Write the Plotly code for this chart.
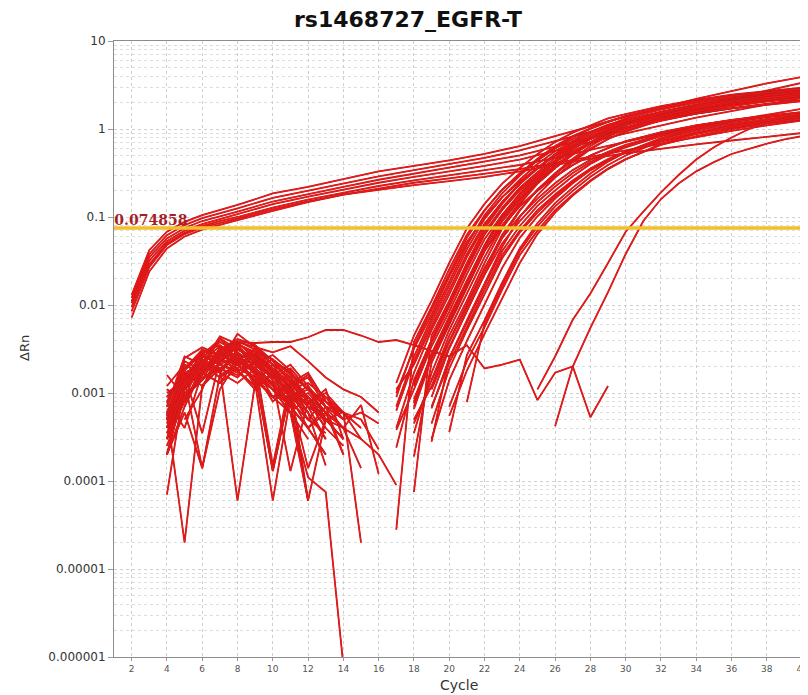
import plotly.graph_objects as go

TITLE = "rs1468727_EGFR-T"
THRESHOLD = 0.074858
THRESHOLD_LABEL = "0.074858"
X_RANGE = [1, 40.05]

# Early-rising curves (values read at these cycles)
EARLY_CYCLES = [2, 3, 4, 5, 6, 7, 8, 10, 12, 14, 16, 18, 20, 22, 24, 26, 28, 30, 32, 34, 36, 38, 40]
EARLY_1 = [0.013, 0.042, 0.068, 0.088, 0.105, 0.12, 0.137, 0.185, 0.22, 0.27, 0.33, 0.38, 0.44, 0.52, 0.64, 0.83, 1.08, 1.38, 1.75, 2.2, 2.7, 3.3, 3.9]
EARLY_2 = [0.012, 0.038, 0.062, 0.081, 0.097, 0.11, 0.125, 0.165, 0.2, 0.24, 0.29, 0.34, 0.4, 0.47, 0.57, 0.73, 0.93, 1.17, 1.47, 1.82, 2.22, 2.7, 3.35]
EARLY_3 = [0.011, 0.035, 0.057, 0.075, 0.09, 0.101, 0.115, 0.15, 0.183, 0.22, 0.265, 0.31, 0.36, 0.42, 0.5, 0.63, 0.8, 1.0, 1.25, 1.55, 1.85, 2.2, 2.6]
EARLY_4 = [0.0105, 0.032, 0.053, 0.07, 0.083, 0.095, 0.108, 0.14, 0.17, 0.205, 0.245, 0.285, 0.33, 0.38, 0.45, 0.56, 0.71, 0.89, 1.1, 1.35, 1.6, 1.9, 2.25]
EARLY_5 = [0.0095, 0.029, 0.05, 0.066, 0.079, 0.09, 0.1, 0.128, 0.158, 0.19, 0.225, 0.26, 0.3, 0.34, 0.39, 0.47, 0.58, 0.72, 0.88, 1.06, 1.25, 1.45, 1.7]
EARLY_6 = [0.0085, 0.027, 0.048, 0.064, 0.076, 0.086, 0.096, 0.122, 0.15, 0.18, 0.212, 0.245, 0.275, 0.31, 0.35, 0.41, 0.48, 0.57, 0.68, 0.81, 0.95, 1.1, 1.25]
EARLY_7 = [0.0072, 0.024, 0.044, 0.06, 0.072, 0.082, 0.092, 0.117, 0.148, 0.18, 0.205, 0.23, 0.255, 0.285, 0.33, 0.39, 0.46, 0.53, 0.6, 0.67, 0.74, 0.82, 0.9]
EARLY_CURVES = [EARLY_1, EARLY_2, EARLY_3, EARLY_4, EARLY_5, EARLY_6, EARLY_7]

# Main amplification cluster
MAIN_CYCLES = [17, 18, 19, 20, 21, 22, 23, 24, 25, 26, 27, 28, 29, 30, 32, 34, 36, 38, 40]
MAIN_CURVES = [
    [0.0013, 0.0045, 0.0112, 0.030, 0.074, 0.141, 0.24, 0.36, 0.52, 0.71, 0.91, 1.10, 1.32, 1.48, 1.82, 2.14, 2.45, 2.69, 2.95],
    [0.000028, 0.0038, 0.0095, 0.0255, 0.063, 0.12, 0.204, 0.306, 0.44, 0.60, 0.77, 0.935, 1.12, 1.26, 1.55, 1.82, 2.08, 2.29, 2.5],
    [0.0007, 0.0026, 0.0071, 0.0186, 0.048, 0.105, 0.186, 0.295, 0.44, 0.62, 0.81, 1.0, 1.2, 1.4, 1.74, 2.07, 2.37, 2.63, 2.88],
    [0.0011, 0.0021, 0.0057, 0.0149, 0.038, 0.084, 0.149, 0.236, 0.352, 0.50, 0.65, 0.80, 0.96, 1.12, 1.39, 1.66, 1.9, 2.1, 2.3],
    [None, 0.000075, 0.0045, 0.0112, 0.030, 0.074, 0.141, 0.24, 0.36, 0.52, 0.71, 0.91, 1.10, 1.32, 1.66, 2.0, 2.29, 2.57, 2.82],
    [None, 0.0013, 0.004, 0.0101, 0.027, 0.067, 0.127, 0.216, 0.324, 0.47, 0.64, 0.82, 0.99, 1.19, 1.49, 1.8, 2.06, 2.31, 2.54],
    [0.00038, 0.0011, 0.0034, 0.0084, 0.0225, 0.056, 0.106, 0.18, 0.27, 0.39, 0.53, 0.68, 0.83, 0.99, 1.25, 1.5, 1.72, 1.93, 2.12],
    [None, 0.0007, 0.0026, 0.0071, 0.0186, 0.048, 0.105, 0.186, 0.295, 0.44, 0.62, 0.81, 1.0, 1.2, 1.57, 1.91, 2.21, 2.51, 2.75],
    [None, 0.00019, 0.0022, 0.006, 0.0158, 0.041, 0.089, 0.158, 0.25, 0.374, 0.53, 0.69, 0.85, 1.02, 1.33, 1.62, 1.88, 2.13, 2.34],
    [None, 0.00045, 0.0014, 0.0039, 0.0102, 0.0264, 0.058, 0.102, 0.162, 0.242, 0.341, 0.446, 0.55, 0.66, 0.86, 1.05, 1.22, 1.38, 1.51],
    [None, None, 0.0014, 0.0045, 0.0112, 0.030, 0.074, 0.141, 0.24, 0.36, 0.52, 0.71, 0.91, 1.10, 1.48, 1.82, 2.14, 2.45, 2.69],
    [None, 0.0005, 0.0012, 0.0038, 0.0095, 0.0255, 0.063, 0.12, 0.204, 0.306, 0.44, 0.60, 0.77, 0.935, 1.26, 1.55, 1.82, 2.08, 2.29],
    [None, None, 0.00028, 0.0025, 0.0063, 0.0168, 0.041, 0.079, 0.134, 0.20, 0.29, 0.40, 0.51, 0.62, 0.83, 1.02, 1.2, 1.37, 1.5],
    [None, None, 0.00067, 0.0025, 0.0067, 0.0177, 0.0456, 0.10, 0.177, 0.28, 0.42, 0.59, 0.77, 0.95, 1.33, 1.65, 1.97, 2.25, 2.5],
    [None, None, 0.0003, 0.0014, 0.0039, 0.0102, 0.0264, 0.058, 0.102, 0.162, 0.242, 0.341, 0.446, 0.55, 0.77, 0.96, 1.14, 1.3, 1.45],
    [None, None, None, 0.00036, 0.0027, 0.0067, 0.018, 0.044, 0.085, 0.144, 0.216, 0.312, 0.426, 0.546, 0.79, 1.0, 1.2, 1.37, 1.54],
    [None, None, None, 0.0007, 0.0023, 0.0056, 0.015, 0.037, 0.07, 0.12, 0.18, 0.26, 0.355, 0.455, 0.66, 0.83, 1.0, 1.15, 1.29],
    [None, None, None, None, 0.00079, 0.0062, 0.0165, 0.041, 0.078, 0.132, 0.198, 0.286, 0.39, 0.5, 0.73, 0.91, 1.1, 1.26, 1.42],
    [0.001, 0.0032, 0.0078, 0.021, 0.052, 0.099, 0.168, 0.252, 0.364, 0.50, 0.64, 0.77, 0.92, 1.04, 1.27, 1.5, 1.72, 1.88, 2.07],
    [None, 0.00077, 0.0025, 0.0062, 0.0165, 0.041, 0.078, 0.132, 0.198, 0.286, 0.39, 0.5, 0.6, 0.73, 0.91, 1.1, 1.26, 1.41, 1.55],
    [None, 0.00066, 0.0025, 0.0067, 0.0177, 0.0456, 0.10, 0.177, 0.28, 0.42, 0.59, 0.77, 0.95, 1.14, 1.49, 1.81, 2.1, 2.38, 2.61],
    [0.00063, 0.0023, 0.0064, 0.0167, 0.043, 0.095, 0.167, 0.265, 0.40, 0.56, 0.73, 0.9, 1.08, 1.26, 1.57, 1.86, 2.13, 2.37, 2.59],
    [None, None, 0.0007, 0.0022, 0.0056, 0.015, 0.037, 0.07, 0.12, 0.18, 0.26, 0.355, 0.455, 0.55, 0.74, 0.91, 1.07, 1.22, 1.35],
    [None, 0.0012, 0.0038, 0.0095, 0.0255, 0.063, 0.12, 0.204, 0.306, 0.44, 0.60, 0.77, 0.935, 1.12, 1.41, 1.7, 1.95, 2.18, 2.4],
    [0.0009, 0.0034, 0.0088, 0.023, 0.058, 0.118, 0.205, 0.315, 0.46, 0.64, 0.83, 1.02, 1.22, 1.4, 1.74, 2.06, 2.36, 2.6, 2.85],
    [0.0004, 0.0017, 0.0052, 0.0132, 0.035, 0.08, 0.148, 0.24, 0.36, 0.51, 0.68, 0.86, 1.04, 1.22, 1.53, 1.84, 2.1, 2.36, 2.58],
    [None, 0.0008, 0.0028, 0.0074, 0.019, 0.046, 0.095, 0.165, 0.26, 0.38, 0.53, 0.69, 0.85, 1.01, 1.3, 1.58, 1.82, 2.05, 2.25],
    [None, 0.00035, 0.0017, 0.0052, 0.0132, 0.035, 0.08, 0.148, 0.24, 0.36, 0.51, 0.68, 0.86, 1.04, 1.4, 1.72, 2.0, 2.27, 2.5],
    [None, None, 0.0011, 0.0033, 0.0086, 0.022, 0.05, 0.09, 0.148, 0.222, 0.316, 0.42, 0.525, 0.63, 0.84, 1.03, 1.21, 1.37, 1.5],
    [None, None, 0.00045, 0.0019, 0.0052, 0.0135, 0.034, 0.067, 0.112, 0.172, 0.25, 0.34, 0.44, 0.54, 0.72, 0.88, 1.04, 1.18, 1.3],
    [None, None, 0.0009, 0.0032, 0.0085, 0.023, 0.058, 0.118, 0.205, 0.315, 0.46, 0.64, 0.83, 1.02, 1.4, 1.75, 2.08, 2.4, 2.65],
    [0.00024, 0.0014, 0.004, 0.0105, 0.028, 0.066, 0.122, 0.2, 0.3, 0.42, 0.56, 0.7, 0.85, 0.99, 1.24, 1.5, 1.72, 1.92, 2.1],
    [None, 0.00085, 0.0026, 0.0066, 0.017, 0.043, 0.08, 0.135, 0.2, 0.29, 0.39, 0.5, 0.61, 0.72, 0.92, 1.1, 1.27, 1.42, 1.55],
    [None, None, None, 0.00055, 0.0018, 0.0047, 0.012, 0.03, 0.064, 0.112, 0.175, 0.255, 0.35, 0.45, 0.68, 0.88, 1.07, 1.24, 1.4],
]

# Two late amplifiers
LATE_CYCLES_1 = [25, 26, 27, 28, 29, 30, 31, 32, 33, 34, 35, 36, 37, 38, 39, 40]
LATE_CURVE_1 = [0.0011, 0.0026, 0.0068, 0.0135, 0.03, 0.068, 0.115, 0.19, 0.3, 0.45, 0.62, 0.8, 1.0, 1.18, 1.3, 1.4]
LATE_CYCLES_2 = [26, 27, 28, 29, 30, 31, 32, 33, 34, 35, 36, 37, 38, 39, 40]
LATE_CURVE_2 = [0.00042, 0.002, 0.0055, 0.014, 0.038, 0.09, 0.16, 0.24, 0.33, 0.42, 0.52, 0.6, 0.68, 0.76, 0.83]

# Long flat noisy curve
FLAT_CYCLES = [7, 8, 9, 10, 11, 12, 13, 14, 15, 16, 17, 18, 19, 20, 21, 22, 23, 24, 25, 26, 27, 28, 29]
FLAT_CURVE = [0.003, 0.0038, 0.0037, 0.0038, 0.0038, 0.0043, 0.0052, 0.0052, 0.0045, 0.0038, 0.004, 0.0035, 0.003,
              0.0026, 0.0035, 0.0019, 0.0021, 0.0024, 0.00083, 0.0017, 0.002, 0.00053, 0.0012]

# Early-cycle noise (each list starts at cycle 4)
NOISE_START_CYCLE = 4
NOISE_CURVES = [
    [0.0005, 0.0011, 0.0018, 0.0024, 0.0021, 0.0015, 0.0009, 0.0006, 0.0003],
    [0.0003, 0.0009, 0.0016, 0.0028, 0.0032, 0.0022, 0.0012, 0.0007, 0.0004, 0.0002],
    [0.00007, 0.0013, 0.0021, 0.0019, 0.0026, 0.0017, 0.0008, 0.0011, 0.0005],
    [0.0016, 0.0009, 0.0014, 0.0031, 0.0041, 0.0035, 0.0023, 0.0013, 0.0008, 0.0004, 0.00025],
    [0.0006, 0.00002, 0.0012, 0.0019, 0.0015, 0.0024, 0.0018, 0.0009, 0.0006],
    [0.0004, 0.0014, 0.0025, 0.0038, 0.0029, 0.0016, 0.00013, 0.0011, 0.0007, 0.0003],
    [0.0009, 0.0017, 0.0012, 0.0022, 0.0047, 0.0033, 0.0021, 0.0015, 0.0009, 0.0005, 0.0003],
    [0.0002, 0.0006, 0.00014, 0.0016, 0.0021, 0.0028, 0.0017, 0.0012, 0.00006],
    [0.0005, 0.0019, 0.0027, 0.0021, 0.0018, 0.0012, 0.0016, 0.0007, 0.0004, 0.0006, 0.0002],
    [0.0003, 0.0011, 0.0023, 0.0034, 0.0026, 0.0013, 0.00006, 0.0009, 0.0012, 0.0005],
    [0.00045, 0.0015, 0.0019, 0.0026, 0.0038, 0.0024, 0.0014, 0.00013, 0.0008, 0.0004],
    [0.0008, 0.0004, 0.0017, 0.0024, 0.0019, 0.0032, 0.0021, 0.0011, 0.00075, 0.0011, 0.0003],
    [0.0002, 0.0012, 0.0031, 0.0027, 0.0022, 0.0019, 0.0013, 0.0008, 0.00006],
    [0.0006, 0.0021, 0.0017, 0.0013, 0.0025, 0.0018, 0.0011, 0.0006, 0.00011, 0.000075, 0.0000008],
    [None, 0.0007, 0.0018, 0.0029, 0.0036, 0.0027, 0.0019, 0.0013, 0.0017, 0.0008, 0.0005],
    [0.0004, 0.0013, 0.0024, 0.0017, 0.0028, 0.0023, 0.00015, 0.0014, 0.0009, 0.0006, 0.0004, 0.00014],
    [0.0011, 0.0008, 0.0019, 0.0042, 0.0031, 0.0026, 0.0018, 0.0011, 0.0007, 0.0005, 0.00061, 0.00002],
    [0.0003, 0.0016, 0.0022, 0.0015, 0.0021, 0.0014, 0.0009, 0.0012, 0.0006, 0.0003],
    [None, 0.0005, 0.0011, 0.0033, 0.0025, 0.0021, 0.0016, 0.0009, 0.00014, 0.0005, 0.0004],
    [0.0006, 0.0012, 0.0026, 0.0022, 0.0034, 0.0019, 0.0013, 0.0008, 0.0010, 0.0006, 0.0004, 0.00073, 0.00012],
    [0.0005, 0.0017, 0.0021, 0.0044, 0.0036, 0.0029, 0.0024, 0.0017, 0.0011, 0.0007, 0.0005, 0.0006, 0.00045],
    [0.00025, 0.0009, 0.0015, 0.0019, 0.00006, 0.0013, 0.0021, 0.0015, 0.0009, 0.0005, 0.0003],
    [0.0007, 0.0023, 0.0018, 0.0027, 0.0023, 0.0017, 0.00013, 0.0011, 0.0013, 0.0009, 0.0005],
    [0.0004, 0.001, 0.0014, 0.0021, 0.0027, 0.0016, 0.0011, 0.0007, 0.0004, 0.0002],
    [0.0009, 0.0015, 0.0028, 0.0021, 0.0017, 0.0029, 0.0018, 0.0012, 0.0015, 0.0007, 0.0006, 0.0003, 0.0002, 0.00009],
    [0.0003, 0.0008, 0.0017, 0.0013, 0.0019, 0.0015, 0.0011, 0.0006, 0.00006, 0.0005],
    [0.0005, 0.0014, 0.00014, 0.0011, 0.0023, 0.0032, 0.0024, 0.0016, 0.0011, 0.0008, 0.0006, 0.0004],
    [0.0002, 0.0011, 0.002, 0.0025, 0.0018, 0.0011, 0.0017, 0.001, 0.0005, 0.0009, 0.0006, 0.0005, 0.00023],
    [0.0008, 0.0019, 0.0031, 0.0024, 0.0029, 0.0021, 0.0015, 0.0019, 0.0011, 0.0007],
    [None, None, 0.0012, 0.0023, 0.0038, 0.0033, 0.0029, 0.0034, 0.0023, 0.0015, 0.0011, 0.0009, 0.0006],
    [0.0012, 0.0021, 0.0016, 0.0029, 0.0024, 0.0018, 0.0012, 0.0008, 0.0005, 0.00035],
    [0.0005, 0.0025, 0.0033, 0.0027, 0.0021, 0.0026, 0.0014, 0.0009, 0.0011, 0.0006],
    [0.0002, 0.0007, 0.0022, 0.0018, 0.0031, 0.0025, 0.0017, 0.0006, 0.0009, 0.00045],
    [0.00055, 0.0016, 0.00035, 0.0024, 0.0035, 0.0022, 0.0027, 0.0018, 0.0008, 0.0005, 0.0003],
    [0.0004, 0.0018, 0.0029, 0.0035, 0.0025, 0.0019, 0.0009, 0.0013, 0.0007, 0.00055],
    [0.001, 0.0014, 0.0024, 0.0019, 0.0016, 0.0022, 0.0015, 0.0011, 0.0006, 0.00015],
    [0.00035, 0.0011, 0.0027, 0.0041, 0.0028, 0.0023, 0.0016, 0.0021, 0.0012, 0.0007, 0.0004, 0.0003],
    [0.0007, 0.0026, 0.0021, 0.0017, 0.0013, 0.0019, 0.0024, 0.0014, 0.0008, 0.001, 0.0006],
    [0.0003, 0.0013, 0.0018, 0.0032, 0.0026, 0.0012, 0.0017, 0.0009, 0.0004, 0.0007, 0.0002],
    [0.0006, 0.0009, 0.0023, 0.0029, 0.0039, 0.0031, 0.0019, 0.0012, 0.0016, 0.0008, 0.0005],
]

X_TICKS = [2, 4, 6, 8, 10, 12, 14, 16, 18, 20, 22, 24, 26, 28, 30, 32, 34, 36, 38, 40]
Y_TICKS = [0.000001, 0.00001, 0.0001, 0.001, 0.01, 0.1, 1, 10]
Y_TICK_LABELS = ["0.000001", "0.00001", "0.0001", "0.001", "0.01", "0.1", "1", "10"]

EDGE = "#a82222"
CORE = "#ff1212"

fig = go.Figure()


def add_curve(xs, ys):
    fig.add_trace(go.Scatter(x=xs, y=ys, mode="lines", line=dict(color=EDGE, width=1.8),
                             hoverinfo="skip", connectgaps=False))
    fig.add_trace(go.Scatter(x=xs, y=ys, mode="lines", line=dict(color=CORE, width=1.1),
                             hoverinfo="skip", connectgaps=False))


for vals in NOISE_CURVES:
    add_curve([NOISE_START_CYCLE + i for i in range(len(vals))], vals)
add_curve(FLAT_CYCLES, FLAT_CURVE)
for vals in EARLY_CURVES:
    add_curve(EARLY_CYCLES, vals)
for vals in MAIN_CURVES:
    add_curve(MAIN_CYCLES, vals)
add_curve(LATE_CYCLES_1, LATE_CURVE_1)
add_curve(LATE_CYCLES_2, LATE_CURVE_2)

# Threshold line and its label
fig.add_trace(go.Scatter(x=X_RANGE, y=[THRESHOLD, THRESHOLD], mode="lines",
                         line=dict(color="#f2c02a", width=3.5), hoverinfo="skip"))
fig.add_trace(go.Scatter(x=[X_RANGE[0] + 0.02], y=[THRESHOLD], mode="text",
                         text=["<b>" + THRESHOLD_LABEL + "</b>"], textposition="top right",
                         textfont=dict(family="DejaVu Serif", size=14, color="#a61e26"),
                         hoverinfo="skip", cliponaxis=False))

MINOR_Y = [m * 10 ** e for e in range(-6, 1) for m in range(2, 10)]
GRID = "#cfcfcf"

# page body has an 8px default margin; the figure is sized so the plot lands where the reference has it
fig.update_layout(
    width=800, height=687,
    margin=dict(l=106, r=5, t=33, b=38, autoexpand=False),
    paper_bgcolor="white", plot_bgcolor="white",
    showlegend=False,
    title=dict(text="<b>" + TITLE + "</b>", x=0.5, xref="container", xanchor="center",
               y=1 - 11 / 687, yref="container", yanchor="middle",
               font=dict(family="DejaVu Sans", size=22, color="#111111")),
    xaxis=dict(range=X_RANGE, tickvals=X_TICKS, ticks="outside", ticklen=3, tickcolor="#9a9a9a",
               tickfont=dict(family="DejaVu Sans", size=9, color="#555555"),
               ticklabeloverflow="allow", automargin=False,
               showgrid=True, gridcolor=GRID, griddash="dot", gridwidth=1,
               showline=True, linecolor="#8c8c8c", linewidth=1, mirror=True, zeroline=False),
    yaxis=dict(type="log", range=[-6, 1], tickvals=Y_TICKS, ticktext=Y_TICK_LABELS,
               ticks="outside", ticklen=5, tickcolor="#9a9a9a", automargin=False,
               tickfont=dict(family="DejaVu Sans", size=12, color="#333333"),
               showgrid=True, gridcolor=GRID, griddash="dot", gridwidth=1,
               showline=True, linecolor="#8c8c8c", linewidth=1, mirror=True, zeroline=False,
               minor=dict(tickvals=MINOR_Y, showgrid=True, gridcolor="#dddddd", griddash="dot",
                          gridwidth=1, ticks="")),
    annotations=[
        dict(text="\u0394Rn", xref="paper", yref="paper", x=-0.129, y=0.502, showarrow=False,
             textangle=-90, xanchor="center", yanchor="middle",
             font=dict(family="DejaVu Sans", size=13, color="#333333")),
        dict(text="Cycle", xref="paper", yref="paper", x=0.5, y=-0.0455, showarrow=False,
             xanchor="center", yanchor="middle",
             font=dict(family="DejaVu Sans", size=14, color="#333333")),
    ],
)

fig.write_html("out.html")
